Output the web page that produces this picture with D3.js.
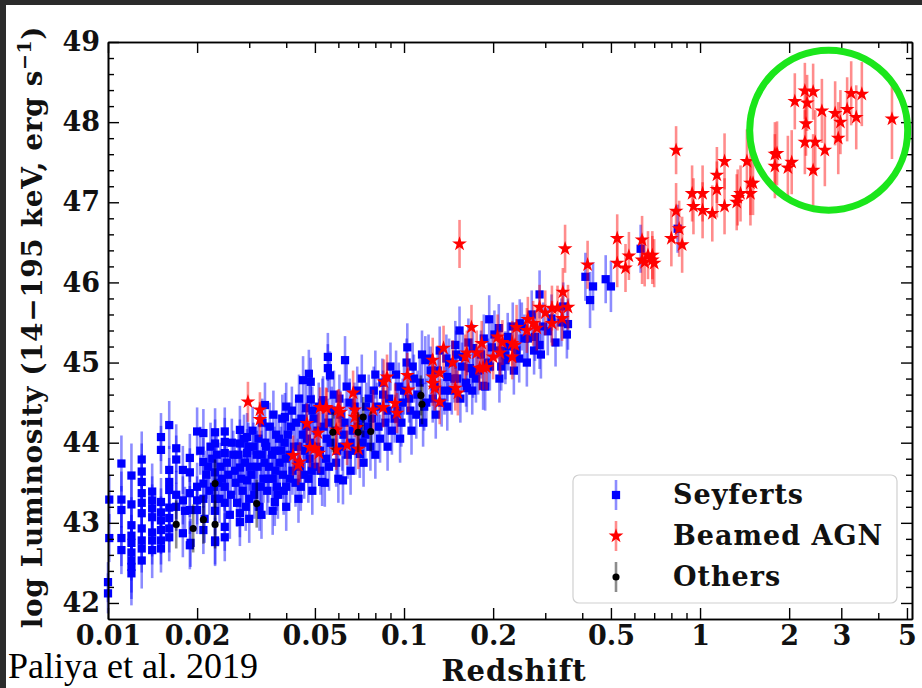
<!DOCTYPE html>
<html>
<head>
<meta charset="utf-8">
<script src="https://d3js.org/d3.v7.min.js"></script>
<style>
  html, body { margin: 0; padding: 0; background: #2b2b2b; }
  svg { display: block; }
  .tick text { font-family: "DejaVu Serif", serif; font-weight: bold; }
</style>
</head>
<body>
<div id="chart"></div>
<script>
// data: [redshift, log luminosity, error]
var seyferts = [
  [0.0101,43.29,0.30],[0.0101,42.81,0.30],[0.0100,42.26,0.25],[0.0100,42.12,0.25],
  [0.0111,43.74,0.35],[0.0111,43.29,0.35],[0.0111,43.16,0.30],[0.0111,42.81,0.35],[0.0111,42.66,0.30],
  [0.0120,43.59,0.40],[0.0120,43.23,0.35],[0.0120,42.97,0.35],[0.0120,42.84,0.35],[0.0120,42.75,0.35],[0.0120,42.63,0.35],[0.0120,42.53,0.40],[0.0120,42.45,0.40],[0.0120,42.37,0.40],
  [0.0130,43.79,0.35],[0.0130,43.64,0.35],[0.0130,43.51,0.35],[0.0130,43.37,0.30],[0.0130,43.25,0.30],[0.0130,43.12,0.30],[0.0130,42.93,0.30],[0.0130,42.78,0.30],[0.0130,42.68,0.30],[0.0130,42.53,0.35],
  [0.0141,43.39,0.35],[0.0141,43.28,0.30],[0.0141,43.18,0.30],[0.0141,43.07,0.30],[0.0141,42.88,0.30],[0.0141,42.78,0.30],[0.0141,42.66,0.35],
  [0.0151,44.07,0.30],[0.0151,43.91,0.30],[0.0151,43.26,0.30],[0.0151,43.13,0.30],[0.0151,43.03,0.30],[0.0151,42.91,0.30],[0.0151,42.78,0.30],[0.0151,42.68,0.30],
  [0.0161,44.22,0.30],[0.0161,43.66,0.30],[0.0161,43.51,0.30],[0.0161,43.41,0.30],[0.0161,43.19,0.30],[0.0161,43.06,0.30],[0.0161,42.93,0.30],[0.0161,42.82,0.30],
  [0.0170,43.93,0.30],[0.0170,43.79,0.30],[0.0170,43.35,0.30],[0.0170,43.20,0.30],
  [0.0179,43.66,0.30],[0.0179,43.28,0.30],[0.0179,42.87,0.30],[0.0182,43.15,0.30],
  [0.0189,43.81,0.30],[0.0189,43.63,0.30],[0.0189,43.37,0.30],[0.0189,43.16,0.30],[0.0189,42.72,0.30],[0.0190,42.75,0.30],
  [0.0200,44.14,0.30],[0.0200,43.45,0.30],[0.0200,43.28,0.30],[0.0200,43.16,0.30],
  [0.0205,43.90,0.30],[0.0210,44.12,0.30],[0.0210,43.76,0.30],[0.0210,43.49,0.30],[0.0210,43.30,0.30],[0.0210,42.91,0.30],[0.0212,43.05,0.30],
  [0.0215,43.60,0.30],[0.0218,43.70,0.30],[0.0220,43.40,0.30],[0.0222,43.95,0.30],[0.0225,43.80,0.30],[0.0228,43.45,0.30],
  [0.0230,44.13,0.30],[0.0230,43.99,0.30],[0.0230,43.63,0.30],[0.0230,43.30,0.30],[0.0230,43.15,0.30],[0.0230,42.78,0.30],[0.0230,42.76,0.30],
  [0.0233,43.85,0.30],[0.0235,43.50,0.30],[0.0238,43.30,0.30],[0.0240,43.70,0.30],[0.0243,43.55,0.30],
  [0.0248,44.14,0.30],[0.0248,44.01,0.30],[0.0248,43.87,0.30],[0.0248,43.45,0.30],[0.0248,43.25,0.30],[0.0248,42.95,0.30],[0.0248,42.82,0.30],
  [0.0252,43.75,0.30],[0.0255,43.60,0.30],[0.0258,43.10,0.30],[0.0260,43.35,0.30],[0.0262,44.00,0.30],[0.0265,43.85,0.30],[0.0268,43.65,0.30],[0.0270,43.50,0.30],[0.0273,43.25,0.30],[0.0276,43.85,0.30],
  [0.0279,44.16,0.30],[0.0279,43.99,0.30],[0.0279,43.69,0.30],[0.0279,43.12,0.30],[0.0279,43.01,0.30],
  [0.0282,43.55,0.30],[0.0285,43.40,0.30],[0.0288,44.05,0.30],[0.0290,43.75,0.30],[0.0292,43.20,0.30],
  [0.0295,44.07,0.30],[0.0295,43.87,0.30],[0.0295,43.53,0.30],[0.0298,43.95,0.30],
  [0.0300,43.30,0.30],[0.0300,43.05,0.30],[0.0302,43.70,0.30],[0.0305,43.60,0.30],[0.0308,44.15,0.30],[0.0310,43.95,0.30],[0.0312,43.35,0.30],[0.0315,43.45,0.30],[0.0318,43.85,0.30],
  [0.0320,43.70,0.30],[0.0322,44.05,0.30],[0.0325,43.20,0.30],[0.0328,43.45,0.30],[0.0330,43.85,0.30],[0.0330,43.10,0.30],[0.0332,44.25,0.30],[0.0335,43.55,0.30],[0.0338,43.75,0.30],
  [0.0339,44.47,0.28],[0.0340,44.00,0.30],[0.0342,43.95,0.30],[0.0345,43.40,0.30],[0.0348,43.55,0.30],[0.0350,43.70,0.30],[0.0352,44.20,0.30],[0.0358,43.85,0.30],
  [0.0360,43.55,0.30],[0.0360,43.15,0.30],[0.0362,44.35,0.30],[0.0365,43.90,0.30],[0.0366,43.26,0.30],[0.0368,43.65,0.30],[0.0370,44.10,0.30],[0.0372,43.45,0.30],[0.0375,43.35,0.30],
  [0.0378,44.05,0.30],[0.0380,43.75,0.30],[0.0384,43.90,0.30],[0.0388,44.30,0.30],[0.0390,43.60,0.30],[0.0392,43.40,0.30],[0.0395,44.00,0.30],[0.0396,44.32,0.30],[0.0398,43.80,0.30],
  [0.0400,43.45,0.30],[0.0400,43.20,0.30],[0.0400,44.45,0.30],[0.0405,44.10,0.30],[0.0410,43.85,0.30],[0.0412,43.55,0.30],[0.0415,44.20,0.30],[0.0418,44.40,0.30],[0.0420,43.65,0.30],
  [0.0425,43.95,0.30],[0.0430,43.50,0.30],[0.0432,44.25,0.30],[0.0438,43.75,0.30],[0.0440,43.95,0.30],[0.0440,43.30,0.30],[0.0442,44.55,0.30],[0.0445,43.70,0.30],[0.0448,43.45,0.30],
  [0.0450,44.30,0.30],[0.0455,44.10,0.30],[0.0456,44.78,0.30],[0.0460,43.60,0.30],[0.0462,43.90,0.30],[0.0466,44.43,0.30],[0.0468,44.20,0.30],[0.0470,44.05,0.30],[0.0475,43.55,0.30],
  [0.0477,44.86,0.30],[0.0480,43.80,0.30],[0.0482,44.00,0.30],[0.0484,44.76,0.30],[0.0484,44.54,0.30],[0.0488,43.65,0.30],[0.0490,44.40,0.30],[0.0490,43.40,0.30],[0.0495,44.30,0.30],
  [0.0500,43.70,0.30],[0.0505,43.95,0.30],[0.0510,44.15,0.30],[0.0515,44.45,0.30],[0.0520,43.90,0.30],[0.0522,43.65,0.30],[0.0529,43.51,0.30],[0.0530,44.50,0.30],[0.0533,44.53,0.30],
  [0.0535,44.20,0.30],[0.0540,43.50,0.30],[0.0545,43.80,0.30],[0.0548,44.05,0.30],[0.0553,45.07,0.30],[0.0553,44.93,0.30],[0.0555,44.25,0.30],[0.0558,43.70,0.30],[0.0562,44.84,0.30],
  [0.0565,44.00,0.30],[0.0570,44.40,0.30],[0.0580,44.60,0.30],[0.0585,44.15,0.30],[0.0590,43.75,0.30],[0.0595,43.90,0.30],[0.0600,43.55,0.30],[0.0605,44.55,0.30],
  [0.0610,44.35,0.30],[0.0618,43.95,0.30],[0.0622,43.53,0.30],[0.0625,44.10,0.30],[0.0630,44.25,0.30],[0.0632,45.03,0.30],[0.0640,44.70,0.30],[0.0645,43.85,0.30],[0.0655,44.50,0.30],
  [0.0660,44.00,0.30],[0.0660,43.65,0.30],[0.0670,44.15,0.30],[0.0680,44.45,0.30],[0.0685,43.90,0.30],[0.0695,44.65,0.30],[0.0700,44.20,0.30],[0.0709,43.86,0.30],
  [0.0715,44.30,0.30],[0.0720,44.80,0.30],[0.0725,44.00,0.30],[0.0730,43.75,0.30],[0.0740,44.10,0.30],[0.0745,44.45,0.30],[0.0755,44.20,0.30],[0.0760,44.55,0.30],[0.0770,43.95,0.30],
  [0.0780,44.30,0.30],[0.0790,44.65,0.30],[0.0800,44.85,0.30],[0.0800,43.85,0.30],[0.0810,44.45,0.30],[0.0820,44.20,0.30],[0.0830,44.05,0.30],[0.0845,44.75,0.30],[0.0850,44.60,0.30],
  [0.0865,44.25,0.30],[0.0880,44.40,0.30],[0.0880,43.95,0.30],[0.0890,44.55,0.30],[0.0900,44.95,0.30],[0.0910,44.15,0.30],[0.0930,44.30,0.30],[0.0940,44.85,0.30],[0.0950,44.40,0.30],
  [0.0960,44.70,0.30],[0.0970,44.05,0.30],[0.0980,44.25,0.30],[0.0990,44.50,0.30],[0.1000,44.65,0.30],[0.1020,45.00,0.30],[0.1026,45.19,0.30],[0.1040,44.55,0.30],[0.1050,44.40,0.30],
  [0.1060,44.15,0.30],[0.1070,44.95,0.30],[0.1080,44.80,0.30],[0.1100,44.35,0.30],[0.1110,44.60,0.30],[0.1130,44.75,0.30],[0.1150,45.10,0.30],[0.1160,44.25,0.30],[0.1170,44.45,0.30],
  [0.1180,45.03,0.30],[0.1190,44.50,0.30],[0.1210,45.05,0.30],[0.1230,44.90,0.30],[0.1250,44.55,0.30],[0.1270,44.70,0.30],[0.1280,44.35,0.30],[0.1300,44.90,0.30],[0.1320,45.15,0.30],
  [0.1340,44.50,0.30],[0.1370,44.65,0.30],[0.1390,45.05,0.30],[0.1400,44.82,0.30],[0.1400,44.45,0.30],[0.1420,45.00,0.30],[0.1450,44.65,0.30],[0.1480,44.80,0.30],[0.1490,45.22,0.30],
  [0.1500,45.10,0.30],[0.1510,44.80,0.30],[0.1540,45.40,0.30],[0.1550,44.55,0.30],[0.1570,44.95,0.30],[0.1580,45.07,0.30],[0.1620,44.75,0.30],[0.1630,44.68,0.30],[0.1650,45.25,0.30],
  [0.1670,44.93,0.30],[0.1700,44.65,0.30],[0.1710,45.18,0.30],[0.1710,44.86,0.30],[0.1750,44.80,0.30],[0.1780,44.90,0.30],[0.1820,45.10,0.30],[0.1850,44.71,0.30],[0.1860,45.30,0.30],
  [0.1880,44.70,0.30],[0.1920,45.00,0.30],[0.1940,45.54,0.30],[0.1950,44.95,0.30],[0.1980,45.19,0.30],[0.2020,45.35,0.30],[0.2090,45.43,0.30],[0.2100,44.80,0.30],[0.2110,45.15,0.30],
  [0.2130,44.95,0.30],[0.2200,45.03,0.30],[0.2200,45.09,0.30],[0.2240,45.32,0.30],[0.2250,45.20,0.30],[0.2330,45.45,0.30],[0.2350,44.90,0.30],[0.2400,45.15,0.30],[0.2450,45.05,0.30],
  [0.2460,45.49,0.30],[0.2500,45.45,0.30],[0.2550,45.30,0.30],[0.2600,45.00,0.30],[0.2620,45.30,0.30],[0.2700,45.60,0.30],[0.2750,45.15,0.30],[0.2770,45.32,0.30],[0.2870,45.85,0.30],
  [0.2870,45.22,0.30],[0.2900,45.10,0.30],[0.2950,45.45,0.30],[0.3060,45.39,0.30],[0.3150,45.55,0.30],[0.3250,45.25,0.30],[0.3400,45.50,0.30],[0.3450,45.70,0.30],[0.3550,45.35,0.30],
  [0.3580,45.48,0.32],
  [0.410,46.07,0.30],[0.425,45.78,0.35],[0.435,45.95,0.30],[0.480,46.04,0.30],[0.500,45.95,0.32],[0.630,46.42,0.30],[0.840,46.67,0.30]
];
var beamed = [
  [0.0297,44.51,0.25],[0.0326,44.41,0.22],[0.0326,44.29,0.22],
  [0.0422,43.84,0.25],[0.0439,43.72,0.25],[0.0445,43.76,0.25],[0.0470,44.24,0.25],[0.0481,43.94,0.25],[0.0500,43.93,0.25],
  [0.0512,44.12,0.25],[0.0516,43.87,0.25],[0.0520,44.44,0.25],[0.0545,44.44,0.25],[0.0548,44.43,0.25],[0.0590,43.91,0.25],[0.0590,44.16,0.25],
  [0.0597,44.41,0.25],[0.0602,44.42,0.25],[0.0610,44.38,0.25],[0.0642,43.97,0.25],[0.0673,44.62,0.28],
  [0.0682,44.41,0.25],[0.0682,44.32,0.25],[0.0694,44.19,0.25],[0.0701,43.92,0.25],[0.0786,44.41,0.25],[0.0850,44.44,0.25],
  [0.0855,44.76,0.28],[0.0876,44.82,0.28],[0.0933,44.49,0.25],[0.0947,44.37,0.25],[0.1026,44.84,0.28],[0.1034,44.66,0.28],
  [0.125,45.03,0.28],[0.125,44.82,0.28],[0.125,44.74,0.28],[0.127,44.68,0.28],[0.132,44.87,0.28],[0.132,44.51,0.28],[0.136,45.18,0.28],
  [0.146,45.00,0.28],[0.149,44.68,0.28],[0.152,44.62,0.28],[0.154,46.48,0.30],[0.161,45.07,0.28],[0.163,45.12,0.28],[0.169,45.44,0.28],
  [0.176,45.12,0.28],[0.180,44.93,0.28],[0.183,45.24,0.28],[0.185,44.94,0.28],[0.190,44.94,0.28],[0.200,45.07,0.28],[0.207,45.32,0.28],
  [0.211,45.12,0.28],[0.215,45.25,0.28],[0.232,45.24,0.28],[0.232,45.07,0.28],[0.237,45.22,0.28],[0.240,45.44,0.28],[0.260,45.40,0.28],
  [0.262,45.54,0.28],[0.273,45.49,0.28],[0.281,45.43,0.28],[0.287,45.69,0.28],[0.300,45.62,0.28],[0.316,45.68,0.28],[0.316,45.49,0.28],
  [0.330,45.68,0.28],[0.342,45.55,0.28],[0.344,45.88,0.30],[0.350,46.42,0.30],[0.358,45.69,0.28],
  [0.417,46.22,0.30],[0.525,46.55,0.30],[0.525,46.24,0.30],[0.560,46.18,0.30],[0.575,46.33,0.30],
  [0.637,46.53,0.30],[0.637,46.28,0.30],[0.650,46.25,0.30],[0.667,46.34,0.30],[0.690,46.28,0.30],[0.690,46.34,0.30],[0.700,46.24,0.30],
  [0.800,46.55,0.35],[0.830,47.65,0.30],[0.830,46.89,0.35],[0.850,46.67,0.35],[0.870,46.47,0.35],
  [0.940,47.11,0.35],[0.950,46.95,0.35],[1.02,47.11,0.35],[1.02,46.90,0.35],[1.10,46.86,0.35],[1.14,47.34,0.35],[1.14,47.16,0.35],
  [1.21,47.51,0.35],[1.21,46.95,0.35],[1.33,47.00,0.35],[1.34,47.06,0.35],[1.37,47.11,0.35],[1.44,47.51,0.40],[1.48,47.24,0.40],[1.48,47.11,0.40],[1.51,47.24,0.40],
  [1.79,47.60,0.40],[1.82,47.61,0.40],[1.79,47.45,0.40],[1.98,47.43,0.40],[2.04,47.50,0.40],
  [2.09,48.26,0.35],[2.26,48.39,0.35],[2.41,48.38,0.35],[2.30,48.24,0.35],[2.28,47.98,0.40],[2.26,47.75,0.40],[2.45,47.75,0.40],[2.41,47.40,0.45],
  [2.58,48.14,0.40],[2.64,47.65,0.45],[2.86,48.11,0.40],[2.98,48.00,0.40],[2.93,47.80,0.45],[3.14,48.16,0.40],[3.24,48.36,0.40],[3.37,48.06,0.40],[3.52,48.35,0.40],[4.45,48.04,0.50]
];
var others = [
  [0.0170,42.98,0.30],[0.0194,42.93,0.30],[0.0210,43.04,0.30],[0.0230,43.49,0.30],[0.0230,42.98,0.30],[0.0318,43.24,0.30],
  [0.0575,44.13,0.25],[0.0700,44.13,0.25],[0.0728,44.32,0.25],[0.0772,44.14,0.25],[0.114,44.59,0.25],[0.115,44.48,0.25]
];

var xTicks = [0.01, 0.02, 0.05, 0.1, 0.2, 0.5, 1, 2, 3, 5];
var xTickLabels = ["0.01", "0.02", "0.05", "0.1", "0.2", "0.5", "1", "2", "3", "5"];
var xMinorTicks = [0.03, 0.04, 0.06, 0.07, 0.08, 0.09, 0.3, 0.4, 0.6, 0.7, 0.8, 0.9, 4];
var yTicks = [42, 43, 44, 45, 46, 47, 48, 49];
var yMinorTicks = d3.range(42.0, 49.01, 0.2).filter(function(v){ return Math.abs(v - Math.round(v)) > 0.01; });

var legendNames = ["Seyferts", "Beamed AGN", "Others"];

var W = 922, H = 688;
var box = {left: 108, right: 912, top: 42, bottom: 619};

var svg = d3.select("#chart").append("svg")
    .attr("width", W)
    .attr("height", H);

// dark frame of the screenshot, white page
svg.append("rect").attr("width", W).attr("height", H).attr("fill", "#2b2b2b");
svg.append("rect").attr("x", 6).attr("y", 5).attr("width", W - 6).attr("height", H - 5).attr("fill", "#ffffff");

var x = d3.scaleLog().domain([0.01, 5.2]).range([box.left, box.right]);
var y = d3.scaleLinear().domain([41.8, 49]).range([box.bottom, box.top]);

var plot = svg.append("g");

function drawSeries(data, color, shape) {
    var g = plot.append("g");
    g.selectAll("line.err")
        .data(data)
        .enter()
        .append("line")
        .attr("class", "err")
        .attr("x1", function(d){ return x(d[0]); })
        .attr("x2", function(d){ return x(d[0]); })
        .attr("y1", function(d){ return y(d[1] - d[2]); })
        .attr("y2", function(d){ return y(d[1] + d[2]); })
        .attr("stroke", color)
        .attr("stroke-opacity", 0.45)
        .attr("stroke-width", 2.6);
    g.selectAll("path.mk")
        .data(data)
        .enter()
        .append("path")
        .attr("class", "mk")
        .attr("d", shape)
        .attr("transform", function(d){ return "translate(" + x(d[0]) + "," + y(d[1]) + ")"; })
        .attr("fill", color);
}

var square = d3.symbol().type(d3.symbolSquare).size(68)();
var star = d3.symbol().type(d3.symbolStar).size(68)();
var circle = d3.symbol().type(d3.symbolCircle).size(40)();

drawSeries(seyferts, "#0000ff", square);
drawSeries(beamed, "#ff0000", star);
drawSeries(others, "#000000", circle);

// axes, ticks pointing in on all four sides
var axes = svg.append("g").attr("class", "axes");

axes.append("g")
    .attr("transform", "translate(0," + box.bottom + ")")
    .call(d3.axisBottom(x).tickValues(xTicks).tickSize(-11).tickSizeOuter(0).tickPadding(7)
        .tickFormat(function(d, i){ return xTickLabels[i]; }));
axes.append("g")
    .attr("transform", "translate(0," + box.bottom + ")")
    .call(d3.axisBottom(x).tickValues(xMinorTicks).tickSize(-6).tickSizeOuter(0).tickFormat(""));
axes.append("g")
    .attr("transform", "translate(0," + box.top + ")")
    .call(d3.axisTop(x).tickValues(xTicks).tickSize(-11).tickSizeOuter(0).tickFormat(""));
axes.append("g")
    .attr("transform", "translate(0," + box.top + ")")
    .call(d3.axisTop(x).tickValues(xMinorTicks).tickSize(-6).tickSizeOuter(0).tickFormat(""));

axes.append("g")
    .attr("transform", "translate(" + box.left + ",0)")
    .call(d3.axisLeft(y).tickValues(yTicks).tickSize(-11).tickSizeOuter(0).tickPadding(8)
        .tickFormat(d3.format("d")));
axes.append("g")
    .attr("transform", "translate(" + box.left + ",0)")
    .call(d3.axisLeft(y).tickValues(yMinorTicks).tickSize(-6).tickSizeOuter(0).tickFormat(""));
axes.append("g")
    .attr("transform", "translate(" + box.right + ",0)")
    .call(d3.axisRight(y).tickValues(yTicks).tickSize(-11).tickSizeOuter(0).tickFormat(""));
axes.append("g")
    .attr("transform", "translate(" + box.right + ",0)")
    .call(d3.axisRight(y).tickValues(yMinorTicks).tickSize(-6).tickSizeOuter(0).tickFormat(""));

axes.selectAll(".domain").attr("stroke", "#000").attr("stroke-width", 1.6);
axes.selectAll(".tick line").attr("stroke", "#000").attr("stroke-width", 1.4);
axes.selectAll(".tick text").attr("font-size", 27).attr("fill", "#111");

// axis titles
svg.append("text")
    .attr("x", 514)
    .attr("y", 681)
    .attr("text-anchor", "middle")
    .attr("font-family", "DejaVu Serif, serif")
    .attr("font-weight", "bold")
    .attr("font-size", 29)
    .attr("letter-spacing", 1)
    .attr("fill", "#111")
    .text("Redshift");

var ylab = svg.append("text")
    .attr("transform", "translate(42," + 327 + ") rotate(-90)")
    .attr("text-anchor", "middle")
    .attr("font-family", "DejaVu Serif, serif")
    .attr("font-weight", "bold")
    .attr("font-size", 28)
    .attr("letter-spacing", 0.6)
    .attr("fill", "#111");
ylab.append("tspan").text("log Luminosity (14\u2212195 keV, erg s");
ylab.append("tspan").attr("dy", -11).attr("font-size", 19).text("\u22121");
ylab.append("tspan").attr("dy", 11).text(")");

// legend
var legend = svg.append("g").attr("transform", "translate(573,475)");
legend.append("rect")
    .attr("width", 324).attr("height", 128)
    .attr("rx", 6)
    .attr("fill", "#ffffff").attr("fill-opacity", 0.85)
    .attr("stroke", "#d0d0d0").attr("stroke-width", 1.2);
var legendShapes = [square, star, circle];
var legendColors = ["#0000ff", "#ff0000", "#000000"];
legendNames.forEach(function(name, i){
    var row = legend.append("g").attr("transform", "translate(43," + (20 + i * 41) + ")");
    row.append("line").attr("y1", -15).attr("y2", 15)
        .attr("stroke", legendColors[i]).attr("stroke-opacity", 0.45).attr("stroke-width", 2.6);
    row.append("path").attr("d", legendShapes[i]).attr("fill", legendColors[i]);
    row.append("text")
        .attr("x", 57).attr("dy", "0.35em")
        .attr("font-family", "DejaVu Serif, serif")
        .attr("font-weight", "bold")
        .attr("font-size", 27)
        .attr("letter-spacing", 1)
        .attr("fill", "#111")
        .text(name);
});

// green highlight circle around the highest-redshift sources
svg.append("ellipse")
    .attr("cx", x(2.72)).attr("cy", y(47.9))
    .attr("rx", 79).attr("ry", 80)
    .attr("fill", "none")
    .attr("stroke", "#1be61b")
    .attr("stroke-width", 7);

// citation
svg.append("text")
    .attr("x", 8).attr("y", 678)
    .attr("font-family", "Liberation Serif, serif")
    .attr("font-size", 36)
    .attr("fill", "#000")
    .text("Paliya et al. 2019");
</script>
</body>
</html>
